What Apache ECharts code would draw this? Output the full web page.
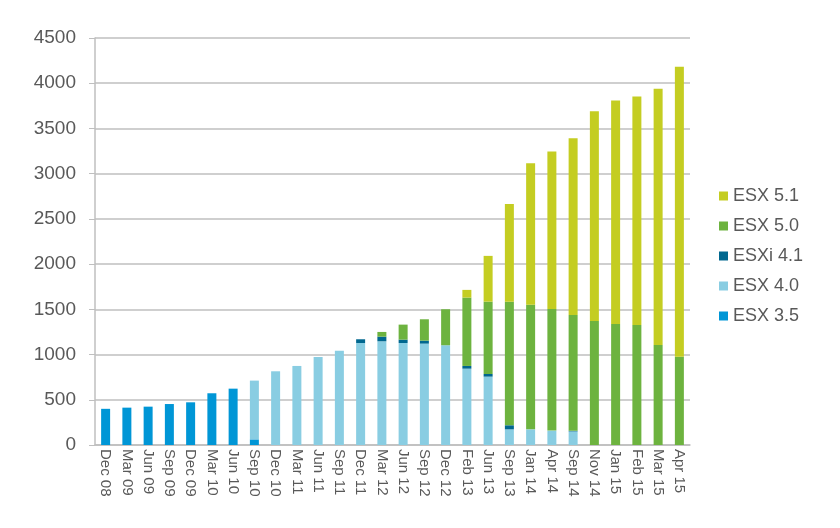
<!DOCTYPE html>
<html><head><meta charset="utf-8">
<script src="https://cdn.jsdelivr.net/npm/echarts@6/dist/echarts.min.js"></script>
<style>html,body{margin:0;padding:0;background:#fff}#c{width:840px;height:528px}</style>
</head><body><div id="c"></div>
<script>
const categories = ["Dec 08","Mar 09","Jun 09","Sep 09","Dec 09","Mar 10","Jun 10","Sep 10","Dec 10","Mar 11","Jun 11","Sep 11","Dec 11","Mar 12","Jun 12","Sep 12","Dec 12","Feb 13","Jun 13","Sep 13","Jan 14","Apr 14","Sep 14","Nov 14","Jan 15","Feb 15","Mar 15","Apr 15"];
const esx35  = [400,413,424,453,472,572,623,62,0,0,0,0,0,0,0,0,0,0,0,0,0,0,0,0,0,0,0,0];
const esx40  = [0,0,0,0,0,0,0,650,815,874,973,1043,1128,1147,1128,1121,1103,844,756,173,173,159,150,0,0,0,0,0];
const esxi41 = [0,0,0,0,0,0,0,0,0,0,0,0,41,51,37,33,0,30,29,45,0,0,7,0,0,0,0,0];
const esx50  = [0,0,0,0,0,0,0,0,0,0,0,0,0,52,166,236,398,756,800,1367,1379,1345,1281,1372,1338,1327,1106,977];
const esx51  = [0,0,0,0,0,0,0,0,0,0,0,0,0,0,0,0,0,85,506,1081,1564,1741,1954,2319,2471,2526,2832,3204];
const yTicks = [0,500,1000,1500,2000,2500,3000,3500,4000,4500];

const font = "Liberation Sans, Arial, sans-serif";
const chart = echarts.init(document.getElementById('c'));
function s(name, data, color){
  return {name, type:'bar', stack:'t', data, barWidth:9, itemStyle:{color}, emphasis:{disabled:true}};
}
chart.setOption({
  animation:false,
  backgroundColor:'#ffffff',
  textStyle:{fontFamily:font},
  grid:{left:95, right:150, top:38, bottom:83},
  legend:{
    orient:'vertical', left:714, top:182, itemWidth:9, itemHeight:9, itemGap:12, icon:'rect',
    textStyle:{fontSize:18, color:'#595959', fontFamily:font},
    data:['ESX 5.1','ESX 5.0','ESXi 4.1','ESX 4.0','ESX 3.5']
  },
  xAxis:{type:'category', data:categories,
    axisLine:{lineStyle:{color:'#bfbfbf', width:1.5}}, axisTick:{show:false},
    axisLabel:{rotate:-90, fontSize:15, color:'#595959', margin:4, interval:0, fontFamily:font}},
  yAxis:{type:'value', min:yTicks[0], max:yTicks[yTicks.length-1], interval:500,
    axisLine:{show:true, lineStyle:{color:'#bfbfbf', width:1.5}},
    axisTick:{show:true, length:6, lineStyle:{color:'#bfbfbf'}},
    splitLine:{lineStyle:{color:'#bfbfbf', width:1.5}},
    axisLabel:{fontSize:19, color:'#595959', margin:19, fontFamily:font, formatter:v=>String(v)}},
  series:[
    s('ESX 3.5', esx35, '#0096d6'),
    s('ESX 4.0', esx40, '#89cde2'),
    s('ESXi 4.1', esxi41, '#00678f'),
    s('ESX 5.0', esx50, '#6db33f'),
    s('ESX 5.1', esx51, '#c4cd22')
  ]
});
</script></body></html>
